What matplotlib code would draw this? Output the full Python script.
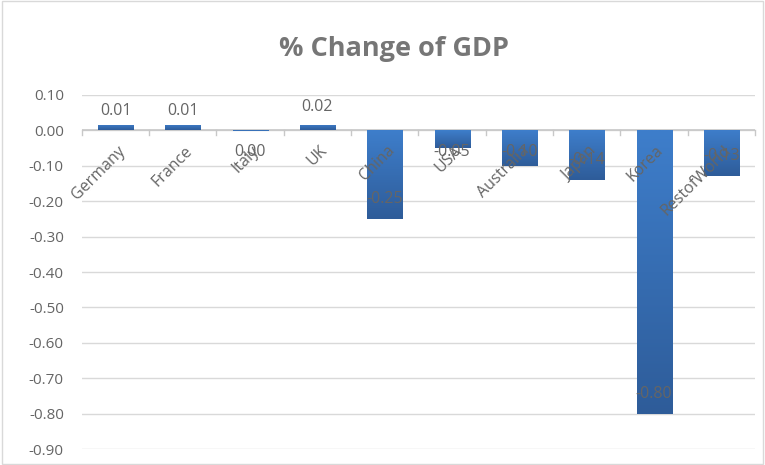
import matplotlib
matplotlib.use("Agg")
import matplotlib.pyplot as plt
import numpy as np
from matplotlib.colors import LinearSegmentedColormap
from matplotlib.transforms import offset_copy

categories = ["Germany", "France", "Italy", "UK", "China", "USA", "Australia", "Japan", "Korea", "RestofWorld"]
values = [0.01, 0.01, 0.00, 0.02, -0.25, -0.05, -0.10, -0.14, -0.80, -0.13]
bar_heights = [0.015, 0.015, -0.002, 0.015, -0.25, -0.05, -0.10, -0.14, -0.80, -0.13]
yticks = [0.10, 0.00, -0.10, -0.20, -0.30, -0.40, -0.50, -0.60, -0.70, -0.80, -0.90]

plt.rcParams['font.family'] = ['Open Sans', 'DejaVu Sans']
grey = "#656565"

fig = plt.figure(figsize=(7.65, 4.65), dpi=100)
ax = fig.add_axes([0.107, 0.034, 0.880, 0.762])
x = list(range(len(categories)))
bars = ax.bar(x, bar_heights, width=0.52, color="#376FB7", zorder=3)

cmap = LinearSegmentedColormap.from_list("g", ["#2E5C99", "#3E7ECB"])
grad = np.linspace(0, 1, 256).reshape(-1, 1)
for b in bars:
    bx, by = b.get_x(), b.get_y()
    w, h = b.get_width(), b.get_height()
    y0, y1 = min(by, by + h), max(by, by + h)
    im = ax.imshow(grad, extent=[bx, bx + w, y0, y1], origin='lower', cmap=cmap,
                   aspect='auto', zorder=3.5)
    im.set_clip_path(b)

ax.set_xlim(-0.5, len(categories) - 0.5)
ax.set_ylim(-0.9, 0.1)
ax.set_yticks(yticks)
ax.set_yticklabels([f"{t:.2f}" for t in yticks], fontsize=11, color=grey)
ax.tick_params(axis='y', length=0, pad=13)
ax.set_xticks([])
ax.grid(axis='y', color="#d9d9d9", linewidth=1, zorder=0)
for s in ax.spines.values():
    s.set_visible(False)
ax.axhline(0, color="#c8c8c8", linewidth=1.2, zorder=2)
for bnd in range(len(categories) + 1):
    ax.plot([bnd - 0.5, bnd - 0.5], [0, -0.013], color="#c8c8c8", linewidth=1, zorder=2, clip_on=False)

for i, c in enumerate(categories):
    t = offset_copy(ax.transData, fig=fig, x=1, y=-9, units='points')
    ax.text(i, 0, c, rotation=45, ha='right', va='top', fontsize=11.5,
            color=grey, transform=t, rotation_mode='anchor', zorder=5)

for i, v in enumerate(values):
    if v > 0:
        ly = v + 0.045
    else:
        ly = min(v + 0.057, -0.062)
    ax.text(i, ly, f"{v:.2f}", ha='center', va='center', fontsize=11.5, color=grey, zorder=6)

fig.text(0.515, 0.895, "% Change of GDP", ha='center', va='center', fontsize=19.5,
         fontweight='bold', color="#767676")

fig.patches.append(plt.Rectangle((0.003, 0.003), 0.994, 0.994, transform=fig.transFigure,
                                 fill=False, edgecolor="#d9d9d9", linewidth=1))

fig.savefig("out.png", dpi=100, facecolor="white")
